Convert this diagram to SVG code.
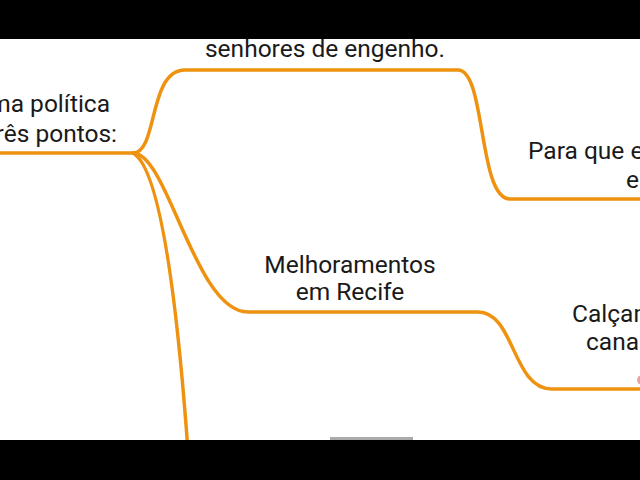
<svg xmlns="http://www.w3.org/2000/svg" width="640" height="480" viewBox="0 0 640 480">
<style>
.ln{fill:none;stroke:#EE9210;stroke-width:3.5;stroke-linecap:round}
.t{font-family:Roboto,"Liberation Sans",sans-serif;font-size:24.5px;fill:#1a1a1a}
</style>
<rect width="640" height="480" fill="#fff"/>
<g id="connectors">
<path class="ln" d="M0,153 L133,153"/>
<path class="ln" d="M133,153 C158,153 148,70 185,70 L458,70 C486,70 478,199 510,199 L640,199"/>
<path class="ln" d="M133,153 C168,153 195,312 248,312 L478,312 C515,312 512,389 552,389 L640,389"/>
<path class="ln" d="M133,153 C160,168 178,300 190,480"/>
</g>
<g id="root"><text class="t" text-anchor="end" x="110" y="112">ma política</text><text class="t" text-anchor="end" x="117" y="142">rês pontos:</text></g>
<g id="n1"><text class="t" text-anchor="middle" x="325" y="57">senhores de engenho.</text></g>
<g id="n2"><text class="t" x="528" y="159">Para que e</text><text class="t" x="626" y="188">e</text></g>
<g id="n3"><text class="t" text-anchor="middle" x="350" y="273">Melhoramentos</text><text class="t" text-anchor="middle" x="350" y="300">em Recife</text></g>
<g id="n4"><text class="t" x="572" y="322">Calçam</text><text class="t" x="586" y="350">cana</text></g>
<circle cx="642" cy="380" r="5" fill="#E8A49C"/>
<rect x="0" y="0" width="640" height="39" fill="#000"/>
<rect x="0" y="440" width="640" height="40" fill="#000"/>
<rect x="330" y="437" width="83" height="3" fill="#aaa"/>
</svg>
